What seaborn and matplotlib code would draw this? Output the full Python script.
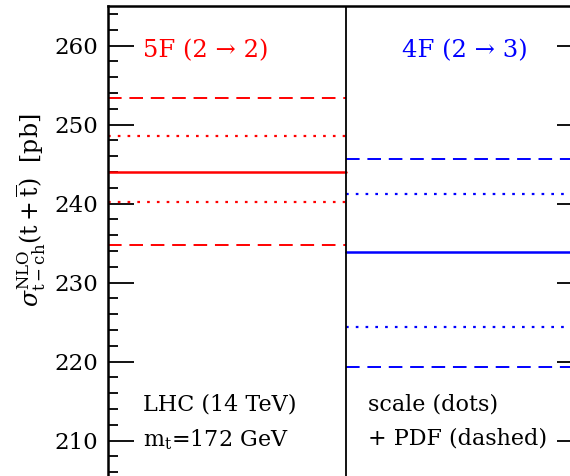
import matplotlib
matplotlib.use("Agg")
import matplotlib.pyplot as plt
import seaborn as sns
from matplotlib.ticker import MultipleLocator

# cross sections [pb]
scheme_labels = ["5F (2 → 2)", "4F (2 → 3)"]
scheme_colors = ["red", "blue"]
central = [244.05, 233.8]
scale_lo = [240.2, 224.4]
scale_hi = [248.5, 241.2]
pdf_lo = [234.7, 219.3]
pdf_hi = [253.3, 245.6]
info_left = ["LHC (14 TeV)", r"m$_{\rm t}$=172 GeV"]
info_right = ["scale (dots)", "+ PDF (dashed)"]
y_ticks = [210, 220, 230, 240, 250, 260]

sns.set_style("ticks")
plt.rcParams["font.family"] = ["DejaVu Serif"]
plt.rcParams["mathtext.fontset"] = "dejavuserif"
plt.rcParams["text.color"] = "black"

fig = plt.figure(figsize=(5.70, 4.76), dpi=100)
# axes run past the bottom and right edge like the cropped original
ax = fig.add_axes([108 / 570, 0.98739 - 1.0788, 475 / 570, 1.0788])

for i in range(2):
    xs = [i, i + 1]
    c = scheme_colors[i]
    sns.lineplot(x=xs, y=[central[i]] * 2, color=c, lw=1.8, ax=ax)
    for v in (scale_lo[i], scale_hi[i]):
        sns.lineplot(x=xs, y=[v] * 2, color=c, lw=1.6, ax=ax, linestyle=(0, (1.2, 3.2)))
    for v in (pdf_lo[i], pdf_hi[i]):
        sns.lineplot(x=xs, y=[v] * 2, color=c, lw=1.4, ax=ax, linestyle=(0, (7, 4)))

ax.axvline(1, color="black", lw=1.3)

ax.set_xlim(0, 2)
ax.set_ylim(200, 265)
ax.set_xticks([])
ax.set_yticks(y_ticks)
ax.yaxis.set_minor_locator(MultipleLocator(2))
ax.tick_params(axis="y", which="both", direction="in", left=True, right=True,
               width=1.3, labelsize=16.5, pad=7, colors="black")
ax.tick_params(axis="y", which="major", length=19)
ax.tick_params(axis="y", which="minor", length=7)
for s in ax.spines.values():
    s.set_visible(True)
    s.set_linewidth(1.8)
    s.set_color("black")

ax.set_ylabel(r"$\sigma^{\rm NLO}_{\rm t-ch}(\rm t+\overline{t})$  [pb]", fontsize=17, color="black")
ax.yaxis.set_label_coords(-0.127, 0.603)

ax.text(0.147, 259.4, scheme_labels[0], color=scheme_colors[0], fontsize=17.5, va="center")
ax.text(1.238, 259.4, scheme_labels[1], color=scheme_colors[1], fontsize=17.5, va="center")
ax.text(0.147, 214.6, info_left[0], fontsize=16, va="center")
ax.text(0.147, 210.1, info_left[1], fontsize=16, va="center")
ax.text(1.095, 214.6, info_right[0], fontsize=16, va="center")
ax.text(1.095, 210.3, info_right[1], fontsize=16, va="center")

fig.savefig("out.png", dpi=100)
